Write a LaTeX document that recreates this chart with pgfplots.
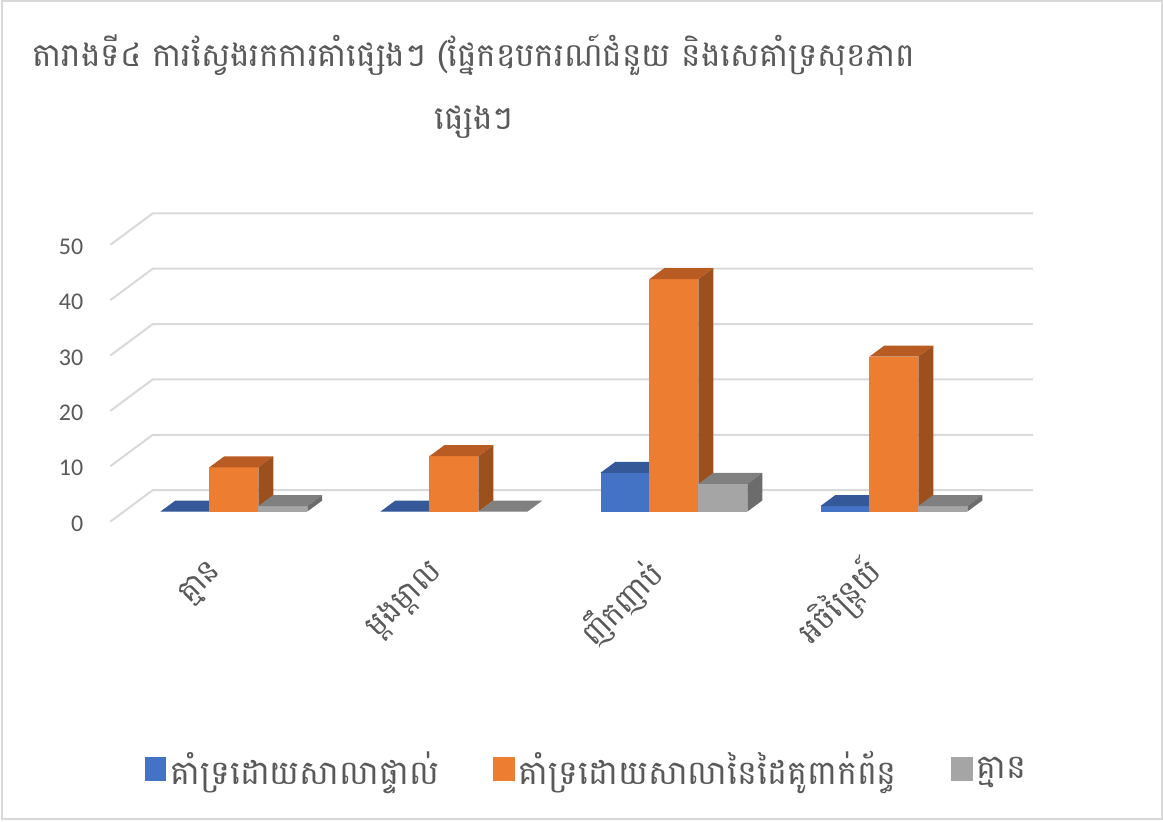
\documentclass[border=0pt]{standalone}
\usepackage{fontspec}
\usepackage{pgfplots}
\usepackage{pgfplotstable}
\pgfplotsset{compat=1.18}
\setmainfont{Carlito}
\newfontfamily\kh[Script=Khmer]{Battambang}
\definecolor{txt}{HTML}{595959}
\definecolor{grd}{HTML}{D9D9D9}
\definecolor{bF}{RGB}{68,114,196}
\definecolor{bT}{RGB}{52,88,152}
\definecolor{bS}{RGB}{44,77,135}
\definecolor{oF}{RGB}{237,125,49}
\definecolor{oT}{RGB}{184,92,35}
\definecolor{oS}{RGB}{156,80,30}
\definecolor{gF}{RGB}{165,165,165}
\definecolor{gT}{RGB}{128,128,128}
\definecolor{gS}{RGB}{108,108,108}

% values: s1 = blue, s2 = orange, s3 = gray
\pgfplotstableread{
cat s1 s2 s3
0 0 8 1
1 0 10 0
2 7 42 5
3 1 28 1
}\data

\def\bw{0.2225}
\def\ddx{0.0677}
\def\ddy{1.986}
% #1 left x, #2 height, #3 front, #4 top, #5 side
\newcommand\drawbar[5]{%
  \pgfmathsetmacro\bH{#2}%
  \pgfmathsetmacro\bL{#1}%
  \pgfmathsetmacro\bR{#1+\bw}%
  \pgfmathsetmacro\bLd{#1+\ddx}%
  \pgfmathsetmacro\bRd{#1+\bw+\ddx}%
  \pgfmathsetmacro\bHd{#2+\ddy}%
  \addplot[fill=#3, draw=none, forget plot] coordinates {(\bL,0) (\bR,0) (\bR,\bH) (\bL,\bH)} -- cycle;
  \addplot[fill=#4, draw=none, forget plot] coordinates {(\bL,\bH) (\bR,\bH) (\bRd,\bHd) (\bLd,\bHd)} -- cycle;
  \addplot[fill=#5, draw=none, forget plot] coordinates {(\bR,0) (\bRd,\ddy) (\bRd,\bHd) (\bR,\bH)} -- cycle;
}

\begin{document}
\begin{tikzpicture}
\begin{axis}[
  width=581.5pt, height=410.5pt, scale only axis,
  xmin=-0.55858, xmax=4.72298, ymin=-55.776, ymax=92.419,
  axis lines=none, clip=false,
  legend columns=3,
  legend image code/.code={\fill[#1] (0pt,-6pt) rectangle (11pt,6pt);},
  legend style={at={(0.118,0.062)}, anchor=west, draw=none, fill=none,
    font=\kh\fontsize{16.7}{19}\selectfont, text=txt,
    /tikz/every even column/.append style={column sep=25pt}},
]
% gridlines: back wall + left wall
\draw[grd, line width=1pt] (axis cs:-0.0618,-1.82) -- (axis cs:0.1312,3.865) -- (axis cs:4.1312,3.865);
\draw[grd, line width=1pt] (axis cs:-0.0618,8.18) -- (axis cs:0.1312,13.865) -- (axis cs:4.1312,13.865);
\draw[grd, line width=1pt] (axis cs:-0.0618,18.18) -- (axis cs:0.1312,23.865) -- (axis cs:4.1312,23.865);
\draw[grd, line width=1pt] (axis cs:-0.0618,28.18) -- (axis cs:0.1312,33.865) -- (axis cs:4.1312,33.865);
\draw[grd, line width=1pt] (axis cs:-0.0618,38.18) -- (axis cs:0.1312,43.865) -- (axis cs:4.1312,43.865);
\draw[grd, line width=1pt] (axis cs:-0.0618,48.18) -- (axis cs:0.1312,53.865) -- (axis cs:4.1312,53.865);
\pgfplotsinvokeforeach{0,10,20,30,40,50}{
  \node[anchor=east, text=txt, font=\fontsize{12}{14}\selectfont, xshift=-10pt, yshift=-1pt] at (axis cs:-0.0618,#1-1.82) {#1};
}
% bars
\pgfplotsinvokeforeach{0,1,2,3}{
  \pgfplotstablegetelem{#1}{s1}\of\data
  \drawbar{#1+0.5-1.5*\bw}{\pgfplotsretval}{bF}{bT}{bS}
  \pgfplotstablegetelem{#1}{s2}\of\data
  \drawbar{#1+0.5-0.5*\bw}{\pgfplotsretval}{oF}{oT}{oS}
  \pgfplotstablegetelem{#1}{s3}\of\data
  \drawbar{#1+0.5+0.5*\bw}{\pgfplotsretval}{gF}{gT}{gS}
}
% category labels
\node[rotate=45, anchor=east, text=txt, font=\kh\fontsize{15.5}{18}\selectfont] at (axis cs:0.45,-9.3) {គ្មាន};
\node[rotate=45, anchor=east, text=txt, font=\kh\fontsize{15.5}{18}\selectfont] at (axis cs:1.45,-9.3) {ម្ដងម្ដាល};
\node[rotate=45, anchor=east, text=txt, font=\kh\fontsize{15.5}{18}\selectfont] at (axis cs:2.45,-9.3) {ញឹកញាប់};
\node[rotate=45, anchor=east, text=txt, font=\kh\fontsize{15.5}{18}\selectfont] at (axis cs:3.45,-9.3) {អចិន្ត្រៃយ៍};
% title
\node[align=center, text=txt, font=\kh\fontsize{16.3}{31.5}\selectfont] at (rel axis cs:0.407,0.895) {តារាងទី៤ ការស្វែងរកការគាំផ្សេងៗ (ផ្នែកឧបករណ៍ជំនួយ និងសេគាំទ្រសុខភាព\\ផ្សេងៗ};
% border
\draw[grd, line width=1pt] (rel axis cs:0,0) ++(0.5pt,0.5pt) rectangle ([xshift=-0.5pt,yshift=-0.5pt]rel axis cs:1,1);
\addlegendimage{fill=bF, draw=none}
\addlegendentry{គាំទ្រដោយសាលាផ្ទាល់}
\addlegendimage{fill=oF, draw=none}
\addlegendentry{គាំទ្រដោយសាលានៃដៃគូពាក់ព័ន្ធ}
\addlegendimage{fill=gF, draw=none}
\addlegendentry{គ្មាន}
\end{axis}
\end{tikzpicture}
\end{document}
